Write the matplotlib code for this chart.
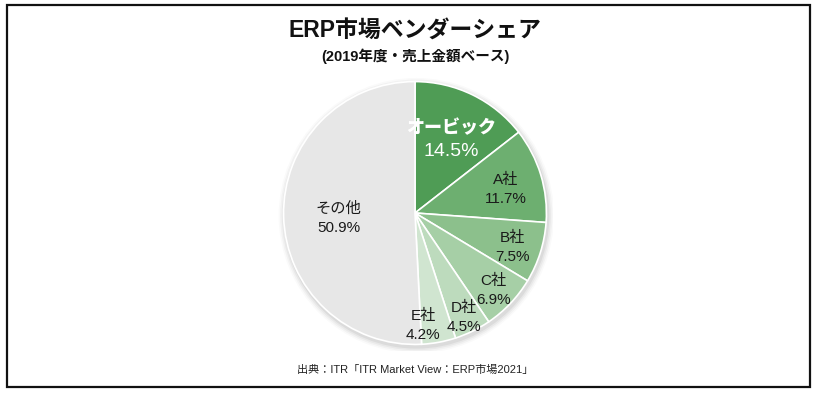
import numpy as np
import matplotlib
matplotlib.use("Agg")
import matplotlib.pyplot as plt
from matplotlib.patches import Rectangle, Circle

plt.rcParams["font.family"] = ["Liberation Sans", "Noto Sans CJK JP", "DejaVu Sans"]

vendors = ["オービック", "A社", "B社", "C社", "D社", "E社", "その他"]
shares  = [14.5, 11.7, 7.5, 6.9, 4.5, 4.2, 50.9]
colors  = ["#4f9c55", "#6daf70", "#8cc08c", "#a6cfa6", "#bddbbd", "#d0e5d0", "#e7e7e7"]

# label placement per wedge: fraction of radius and angle nudge (deg)
label_r   = [0.62, 0.72, 0.78, 0.82, 0.85, 0.83, 0.58]
label_dang = [0, 0, 0, 0, 0, -6, 0]

W, H = 820, 397
fig = plt.figure(figsize=(W / 100, H / 100), dpi=100)
fig.patch.set_facecolor("white")

# outer frame
fig.add_artist(Rectangle((7 / W, 1 - 387 / H), 803 / W, 382 / H, transform=fig.transFigure,
                         fill=False, edgecolor="#111111", linewidth=1.6))

cx, cy, r = 415, 213, 138
ax = fig.add_axes([(cx - r) / W, (H - cy - r) / H, 2 * r / W, 2 * r / H])

# soft shadow
for k, a in enumerate([0.05, 0.04, 0.03, 0.02]):
    ax.add_patch(Circle((0.01, -0.02), 1.0 + 0.012 * (k + 1), color="#000000", alpha=a, zorder=0, lw=0))

wedges, _ = ax.pie(shares, colors=colors, startangle=90, counterclock=False,
                   wedgeprops=dict(edgecolor="white", linewidth=1.2), radius=1.0)
for w in wedges:
    w.set_zorder(2)
ax.set_xlim(-1.05, 1.05)
ax.set_ylim(-1.05, 1.05)
ax.set_aspect("equal")
ax.axis("off")

for i, w in enumerate(wedges):
    ang = np.deg2rad((w.theta1 + w.theta2) / 2 + label_dang[i])
    x, y = label_r[i] * np.cos(ang), label_r[i] * np.sin(ang)
    if i == 0:
        ax.text(x, y + 0.09, vendors[i], ha="center", va="center", color="white",
                fontsize=13, fontweight="black", fontstyle="italic", zorder=5)
        ax.text(x, y - 0.09, f"{shares[i]}%", ha="center", va="center", color="white",
                fontsize=14, zorder=5)
    else:
        ax.text(x, y + 0.045, vendors[i], ha="center", va="center", color="#1a1a1a",
                fontsize=11, zorder=5)
        ax.text(x, y - 0.10, f"{shares[i]}%", ha="center", va="center", color="#1a1a1a",
                fontsize=11, zorder=5)

fig.text(415 / W, 1 - 30 / H, "ERP市場ベンダーシェア", ha="center", va="center",
         fontsize=16.5, fontweight="bold", color="#111111")
fig.text(415 / W, 1 - 56 / H, "(2019年度・売上金額ベース)", ha="center", va="center",
         fontsize=10.5, fontweight="bold", color="#111111")
fig.text(415 / W, 1 - 370 / H, "出典：ITR「ITR Market View：ERP市場2021」", ha="center", va="center",
         fontsize=8, color="#222222")

fig.savefig("out.png", dpi=100)
